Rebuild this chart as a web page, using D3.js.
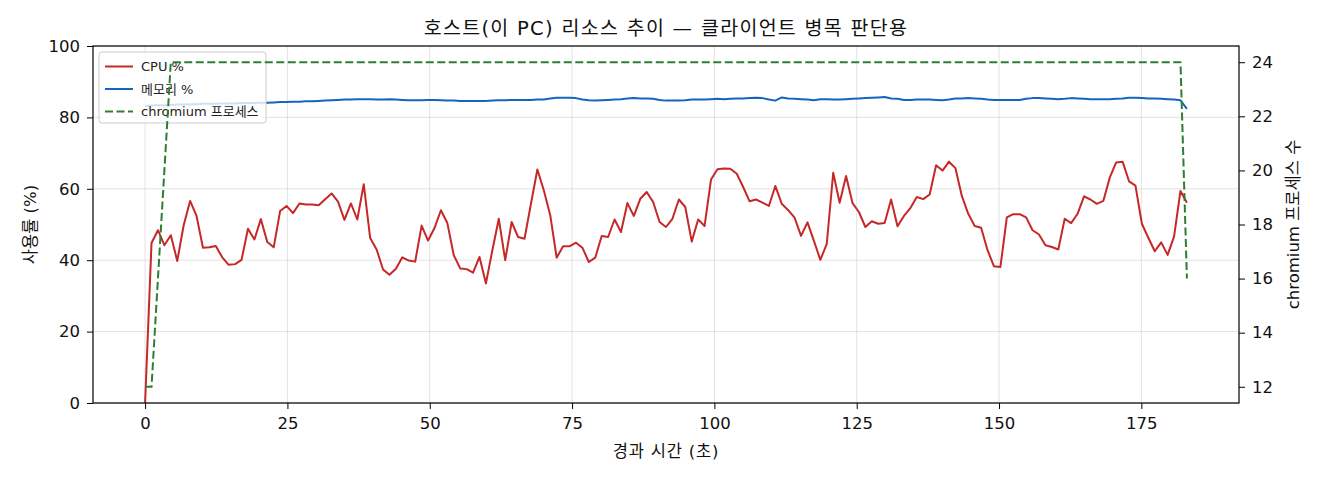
<!DOCTYPE html>
<html lang="ko">
<head>
<meta charset="UTF-8">
<title>호스트(이 PC) 리소스 추이</title>
<style>
    body { margin: 0; background: #fff; }
    svg { display: block; font-family: "DejaVu Sans", "Noto Sans CJK KR", sans-serif; }
    .grid line { stroke: #b0b0b0; stroke-opacity: 0.35; stroke-width: 1; }
    .axis text { font-family: "DejaVu Sans", "Noto Sans CJK KR", sans-serif; font-size: 16.5px; fill: #111; }
    .axis path, .axis line { stroke: #000; }
</style>
</head>
<body>
<svg id="chart" width="1320" height="480"></svg>
<script src="https://d3js.org/d3.v7.min.js"></script>
<script>
// samples, one every ~1.13 s over 183 s
const elapsedEnd = 183;

const cpu = [
    0, 44.8, 48.4, 44.2, 47, 39.8, 49.8, 56.6, 52.4, 43.5,
    43.6, 44, 40.8, 38.7, 38.9, 40.1, 48.8, 45.8, 51.5, 45.1,
    43.6, 53.8, 55.2, 53.2, 55.9, 55.6, 55.6, 55.4, 57.1, 58.7,
    56.4, 51.3, 55.9, 51.4, 61.3, 46.2, 43, 37.4, 35.9, 37.6,
    40.8, 39.9, 39.6, 49.7, 45.5, 49, 54, 50.4, 41.4, 37.7,
    37.5, 36.5, 40.9, 33.5,
    42.8, 51.6, 40, 50.7, 46.5, 46, 55.8, 65.4, 59.6, 52.6,
    40.7, 43.9, 43.9, 44.9, 43.5, 39.5, 40.7, 46.8, 46.5, 51.4,
    47.9, 56, 52.4, 57.2, 59.1, 56.3, 50.7, 49.3, 51.6, 57,
    54.9, 45.2, 51.4, 49.6, 62.6, 65.5, 65.7, 65.6, 64.2, 60.5,
    56.5, 57, 56.1, 55.2, 60.8, 55.8, 54, 51.9, 46.8, 50.6,
    45.4, 40.1, 44.6, 64.5, 56.1, 63.6, 56, 53.5, 49.3, 50.9,
    50.2,
    50.4, 57, 49.5, 52.4, 54.6, 57.7, 57.1, 58.4, 66.6, 65.1,
    67.6, 65.8, 58, 53, 49.6, 49.1, 42.8, 38.3, 38.1, 52,
    52.9, 52.9, 52, 48.4, 47.2, 44.2, 43.7, 43, 51.6, 50.4,
    53, 57.9, 57, 55.8, 56.6, 63.1, 67.4, 67.6, 62.1, 60.9,
    50.2, 46.3, 42.5, 45, 41.5, 46.6, 59.4, 56.1
];

const memory = [
    83.2, 83.3, 83.4, 83.4, 83.5, 83.6, 83.6, 83.7, 83.7, 83.8,
    83.8, 83.8, 83.9, 83.9, 83.9, 84.0, 84.0, 84.0, 84.1, 84.1,
    84.2, 84.3, 84.3, 84.4, 84.4, 84.5, 84.5, 84.6, 84.7, 84.8,
    84.9, 85.0, 85.0, 85.1, 85.1, 85.1, 85.0, 85.0, 85.1, 85.0,
    84.9, 84.8, 84.8, 84.8, 84.9, 84.9, 84.8, 84.7, 84.7, 84.6,
    84.6, 84.6, 84.6, 84.6, 84.7, 84.8, 84.8, 84.9, 84.9, 84.9,
    84.9, 85.0, 85.0, 85.3, 85.5, 85.5, 85.5, 85.4, 85.0, 84.8,
    84.7, 84.8, 84.9, 85.0, 85.1, 85.3, 85.4, 85.3, 85.3, 85.2,
    84.9, 84.7, 84.7, 84.7, 84.8, 85.0, 85.0, 85.0, 85.1, 85.2,
    85.1, 85.2, 85.3, 85.3, 85.4, 85.5, 85.4, 85.0, 84.7, 85.6,
    85.3, 85.2, 85.1, 85.0, 84.8, 85.1, 85.1, 85.0, 85.0, 85.1,
    85.2, 85.3, 85.4, 85.5, 85.6, 85.7, 85.3, 85.2, 84.9, 84.9,
    85.0, 85.0, 85.0, 84.9, 84.8, 85.0, 85.3, 85.3, 85.4, 85.3,
    85.2, 85.0, 84.9, 84.9, 84.9, 84.9, 84.9, 85.2, 85.4, 85.4,
    85.3, 85.2, 85.1, 85.2, 85.4, 85.3, 85.2, 85.1, 85.1, 85.1,
    85.1, 85.2, 85.3, 85.5, 85.5, 85.4, 85.3, 85.3, 85.2, 85.1,
    85.0, 84.8, 82.4
];

const procs = [
    12, 12, 16, 20, 24, 24, 24, 24, 24, 24,
    24, 24, 24, 24, 24, 24, 24, 24, 24, 24,
    24, 24, 24, 24, 24, 24, 24, 24, 24, 24,
    24, 24, 24, 24, 24, 24, 24, 24, 24, 24,
    24, 24, 24, 24, 24, 24, 24, 24, 24, 24,
    24, 24, 24, 24, 24, 24, 24, 24, 24, 24,
    24, 24, 24, 24, 24, 24, 24, 24, 24, 24,
    24, 24, 24, 24, 24, 24, 24, 24, 24, 24,
    24, 24, 24, 24, 24, 24, 24, 24, 24, 24,
    24, 24, 24, 24, 24, 24, 24, 24, 24, 24,
    24, 24, 24, 24, 24, 24, 24, 24, 24, 24,
    24, 24, 24, 24, 24, 24, 24, 24, 24, 24,
    24, 24, 24, 24, 24, 24, 24, 24, 24, 24,
    24, 24, 24, 24, 24, 24, 24, 24, 24, 24,
    24, 24, 24, 24, 24, 24, 24, 24, 24, 24,
    24, 24, 24, 24, 24, 24, 24, 24, 24, 24,
    24, 24, 16
];

const xTicks = [0, 25, 50, 75, 100, 125, 150, 175];
const leftTicks = [0, 20, 40, 60, 80, 100];
const rightTicks = [12, 14, 16, 18, 20, 22, 24];

const legendItems = [
    { label: "CPU %", color: "#c62828", dash: null },
    { label: "메모리 %", color: "#1565c0", dash: null },
    { label: "chromium 프로세스", color: "#2e7d32", dash: "8,3.5" }
];

const times = cpu.map((_, i) => i * elapsedEnd / (cpu.length - 1));

const W = 1320, H = 480;
const margin = { top: 46, right: 81, bottom: 77, left: 93 };
const iw = W - margin.left - margin.right;
const ih = H - margin.top - margin.bottom;

const svg = d3.select("#chart");
const g = svg.append("g").attr("transform", `translate(${margin.left},${margin.top})`);

const pad = elapsedEnd * 0.05;
const x = d3.scaleLinear().domain([-pad, elapsedEnd + pad]).range([0, iw]);
const yL = d3.scaleLinear().domain([0, 100]).range([ih, 0]);
const yR = d3.scaleLinear().domain([11.4, 24.6]).range([ih, 0]);

// grid
g.append("g").attr("class", "grid")
    .selectAll("line").data(xTicks).join("line")
    .attr("x1", d => x(d)).attr("x2", d => x(d))
    .attr("y1", 0).attr("y2", ih);
g.append("g").attr("class", "grid")
    .selectAll("line").data(leftTicks).join("line")
    .attr("x1", 0).attr("x2", iw)
    .attr("y1", d => yL(d)).attr("y2", d => yL(d));

// left-axis lines
const lineL = (vals) => d3.line().x((d, i) => x(times[i])).y(d => yL(d))(vals);

g.append("path").attr("d", lineL(cpu))
    .attr("fill", "none").attr("stroke", "#c62828").attr("stroke-width", 2)
    .attr("stroke-linejoin", "round");
g.append("path").attr("d", lineL(memory))
    .attr("fill", "none").attr("stroke", "#1565c0").attr("stroke-width", 2)
    .attr("stroke-linejoin", "round");

// legend (sits under the twin-axis line, like matplotlib)
const lg = g.append("g").attr("transform", "translate(6,6)");
lg.append("rect")
    .attr("width", 167).attr("height", 71).attr("rx", 3)
    .attr("fill", "#fff").attr("fill-opacity", 0.8)
    .attr("stroke", "#cccccc").attr("stroke-width", 1);
legendItems.forEach((it, i) => {
    const yy = 14.5 + i * 22.5;
    lg.append("line")
        .attr("x1", 6).attr("x2", 34).attr("y1", yy).attr("y2", yy)
        .attr("stroke", it.color).attr("stroke-width", 2)
        .attr("stroke-dasharray", it.dash);
    lg.append("text")
        .attr("x", 42).attr("y", yy).attr("dy", "0.36em")
        .attr("font-size", 13).attr("fill", "#222")
        .text(it.label);
});

// right-axis line
g.append("path")
    .attr("d", d3.line().x((d, i) => x(times[i])).y(d => yR(d))(procs))
    .attr("fill", "none").attr("stroke", "#2e7d32").attr("stroke-width", 2)
    .attr("stroke-dasharray", "8,3.5");

// axes
g.append("g").attr("class", "axis")
    .attr("transform", `translate(0,${ih})`)
    .call(d3.axisBottom(x).tickValues(xTicks).tickSize(6).tickPadding(8).tickSizeOuter(0));
g.append("g").attr("class", "axis")
    .call(d3.axisLeft(yL).tickValues(leftTicks).tickSize(6).tickPadding(7).tickSizeOuter(0));
g.append("g").attr("class", "axis")
    .attr("transform", `translate(${iw},0)`)
    .call(d3.axisRight(yR).tickValues(rightTicks).tickSize(6).tickPadding(7).tickSizeOuter(0));
g.selectAll(".axis .domain").remove();

// frame
g.append("rect").attr("width", iw).attr("height", ih)
    .attr("fill", "none").attr("stroke", "#000").attr("stroke-width", 1.2);

// titles
svg.append("text")
    .attr("x", margin.left + iw / 2).attr("y", 35)
    .attr("text-anchor", "middle").attr("font-size", 19.5).attr("fill", "#111")
    .attr("letter-spacing", 1.3)
    .text("호스트(이 PC) 리소스 추이 — 클라이언트 병목 판단용");
svg.append("text")
    .attr("x", margin.left + iw / 2).attr("y", 457)
    .attr("text-anchor", "middle").attr("font-size", 16.5).attr("fill", "#111")
    .attr("letter-spacing", 0.8)
    .text("경과 시간 (초)");
svg.append("text")
    .attr("transform", `translate(36,${margin.top + ih / 2}) rotate(-90)`)
    .attr("text-anchor", "middle").attr("font-size", 16.5).attr("fill", "#111")
    .text("사용률 (%)");
svg.append("text")
    .attr("transform", `translate(1299,${margin.top + ih / 2}) rotate(-90)`)
    .attr("text-anchor", "middle").attr("font-size", 16.5).attr("fill", "#111")
    .text("chromium 프로세스 수");
</script>
</body>
</html>
